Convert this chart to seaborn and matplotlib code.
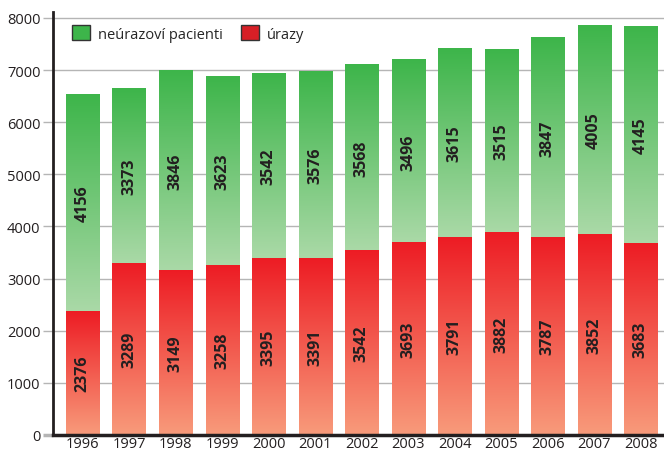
import numpy as np
import pandas as pd
import seaborn as sns
import matplotlib.pyplot as plt
from matplotlib.colors import LinearSegmentedColormap
from matplotlib.patches import Patch

years = ["1996", "1997", "1998", "1999", "2000", "2001", "2002",
         "2003", "2004", "2005", "2006", "2007", "2008"]
urazy = [2376, 3289, 3149, 3258, 3395, 3391, 3542, 3693, 3791, 3882, 3787, 3852, 3683]
neurazovi = [4156, 3373, 3846, 3623, 3542, 3576, 3568, 3496, 3615, 3515, 3847, 4005, 4145]

df = pd.DataFrame({"rok": years, "urazy": urazy, "neurazovi": neurazovi})
df["celkem"] = df["urazy"] + df["neurazovi"]

sns.set_style("white")
plt.rcParams["font.family"] = ["Open Sans", "DejaVu Sans"]

green_cmap = LinearSegmentedColormap.from_list("g", ["#aad9a7", "#3db54a"])
red_cmap = LinearSegmentedColormap.from_list("r", ["#f89b7b", "#ed1c24"])

fig = plt.figure(figsize=(6.64, 4.52), dpi=100)
ax = fig.add_axes([53 / 664, 16 / 452, 1 - 53 / 664, (436 - 13) / 452])

# stacked: total first, then injuries drawn over it
sns.barplot(data=df, x="rok", y="celkem", color="#3db54a", width=0.71, ax=ax, zorder=2)
sns.barplot(data=df, x="rok", y="urazy", color="#ed1c24", width=0.71, ax=ax, zorder=3)

grad = np.linspace(0, 1, 256).reshape(-1, 1)
n = len(df)
for i, p in enumerate(ax.patches):
    x0, w = p.get_x(), p.get_width()
    if i < n:
        y0, y1, cmap, z = df["urazy"][i], p.get_height(), green_cmap, 2.5
    else:
        y0, y1, cmap, z = 0, p.get_height(), red_cmap, 3.5
    p.set_visible(False)
    ax.imshow(grad, extent=[x0, x0 + w, y0, y1], origin="lower", aspect="auto",
              cmap=cmap, zorder=z, interpolation="bicubic")

for i in range(n):
    u, g = df["urazy"][i], df["neurazovi"][i]
    ax.text(i, u / 2, str(u), rotation=90, ha="center", va="center",
            fontsize=11.5, fontweight="bold", color="#231f20", zorder=5)
    ax.text(i, u + g / 2, str(g), rotation=90, ha="center", va="center",
            fontsize=11.5, fontweight="bold", color="#231f20", zorder=5)

ax.set_xlim(-0.634, 12.5)
ax.set_ylim(0, 8115)
ax.set_yticks(range(0, 8001, 1000))
ax.yaxis.grid(True, color="#b5b5b5", linewidth=1)
ax.set_axisbelow(True)
ax.set_xlabel("")
ax.set_ylabel("")

for s in ["top", "right"]:
    ax.spines[s].set_visible(False)
ax.spines["left"].set_color("#231f20")
ax.spines["left"].set_linewidth(2)
ax.spines["bottom"].set_color("#231f20")
ax.spines["bottom"].set_linewidth(2.5)
ax.spines["bottom"].set_zorder(6)

ax.tick_params(axis="y", length=7, width=1, color="#b5b5b5", labelsize=10.5,
               labelcolor="#231f20", pad=2, left=True)
ax.tick_params(axis="x", length=0, labelsize=10.5, labelcolor="#231f20", pad=1)
t0 = ax.yaxis.get_major_ticks()[0]
t0.tick1line.set_color("#231f20")
t0.tick1line.set_markeredgewidth(2.5)

handles = [Patch(facecolor="#3db54a", edgecolor="#333333", linewidth=1, label="neúrazoví pacienti"),
           Patch(facecolor="#d71f26", edgecolor="#333333", linewidth=1, label="úrazy")]
ax.legend(handles=handles, loc="upper left", bbox_to_anchor=(0.01, 1.0), ncol=2,
          frameon=False, fontsize=10.5, handlelength=1.2, handleheight=1.2,
          columnspacing=1.3, handletextpad=0.55)

fig.savefig("out.png", dpi=100)
